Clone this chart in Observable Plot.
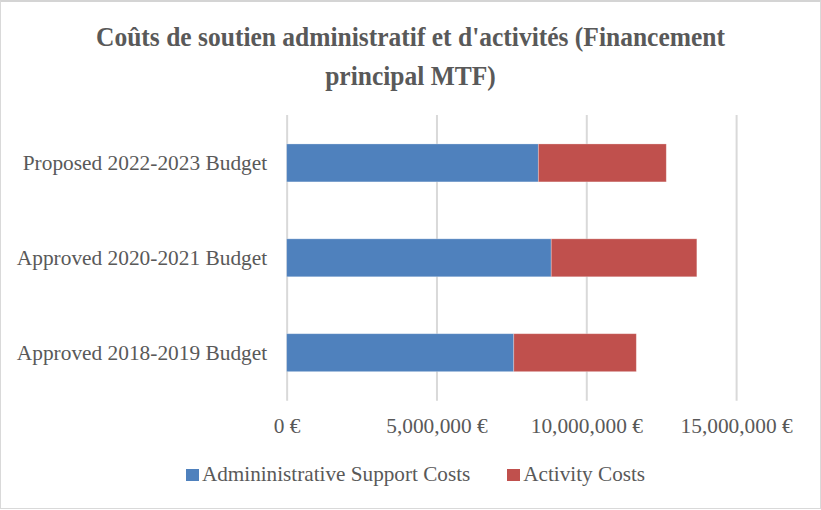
<!DOCTYPE html>
<html>
<head>
<meta charset="utf-8">
<script src="https://cdn.jsdelivr.net/npm/d3@7"></script>
<script src="https://cdn.jsdelivr.net/npm/@observablehq/plot@0.6"></script>
<style>
  html, body { margin: 0; padding: 0; background: #fff; }
  #wrap { position: relative; width: 819px; height: 506px; border: 1px solid #d9d9d9; border-top: 2px solid #d4d4d4; background: #fff; font-family: "Liberation Serif", "Times New Roman", serif; color: #595959; overflow: hidden; }
  #title { position: absolute; top: 15px; left: 0; width: 819px; text-align: center; font-weight: bold; font-size: 25.5px; line-height: 36px; color: #595959; transform: scaleY(1.1); transform-origin: top center; }
  #chart { position: absolute; top: 96px; left: -1px; }
  #legend { position: absolute; top: 460px; left: 5px; width: 819px; display: flex; justify-content: center; gap: 37px; font-size: 21.2px; }
  .item { display: flex; align-items: center; }
  .sw { width: 13px; height: 12px; margin-right: 3px; }
</style>
</head>
<body>
<div id="wrap">
  <div id="title">Coûts de soutien administratif et d'activités (Financement<br>principal MTF)</div>
  <div id="chart"></div>
  <div id="legend"></div>
</div>
<script>
const categories = ["Proposed 2022-2023 Budget", "Approved 2020-2021 Budget", "Approved 2018-2019 Budget"];
const seriesNames = ["Admininistrative Support Costs", "Activity Costs"];
const adminCosts = [8400000, 8830000, 7580000];
const activityCosts = [4270000, 4860000, 4090000];
const xTicks = [0, 5000000, 10000000, 15000000];
const colors = ["#4f81bd", "#c0504d"];

const rows = [];
categories.forEach((c, i) => {
  rows.push({category: c, series: seriesNames[0], value: adminCosts[i]});
  rows.push({category: c, series: seriesNames[1], value: activityCosts[i]});
});

const fmt = d => d3.format(",")(d) + " €";

const chart = Plot.plot({
  width: 821,
  height: 345,
  marginTop: 17,
  marginBottom: 42,
  marginLeft: 287,
  marginRight: 84,
  style: {fontFamily: '"Liberation Serif", "Times New Roman", serif', fontSize: "21.4px", color: "#595959", background: "transparent"},
  x: {domain: [0, 15000000], ticks: xTicks, tickFormat: fmt},
  y: {domain: categories, paddingInner: 0.6, paddingOuter: 0.3},
  color: {domain: seriesNames, range: colors},
  marks: [
    Plot.ruleX(xTicks, {stroke: "#d9d9d9", strokeWidth: 2}),
    Plot.barX(rows, Plot.stackX({x: "value", y: "category", fill: "series", order: seriesNames, stroke: "#ffffff", strokeOpacity: 0.35, strokeWidth: 0.8})),
    Plot.axisX({ticks: xTicks, tickFormat: fmt, tickSize: 0, tickPadding: 17, label: null, fill: "#595959"}),
    Plot.axisY({tickSize: 0, tickPadding: 20, label: null, fill: "#595959"})
  ]
});
document.getElementById("chart").appendChild(chart);

const legend = document.getElementById("legend");
seriesNames.forEach((s, i) => {
  const it = document.createElement("div");
  it.className = "item";
  const sw = document.createElement("span");
  sw.className = "sw";
  sw.style.background = colors[i];
  const t = document.createElement("span");
  t.textContent = s;
  it.appendChild(sw);
  it.appendChild(t);
  legend.appendChild(it);
});
</script>
</body>
</html>
